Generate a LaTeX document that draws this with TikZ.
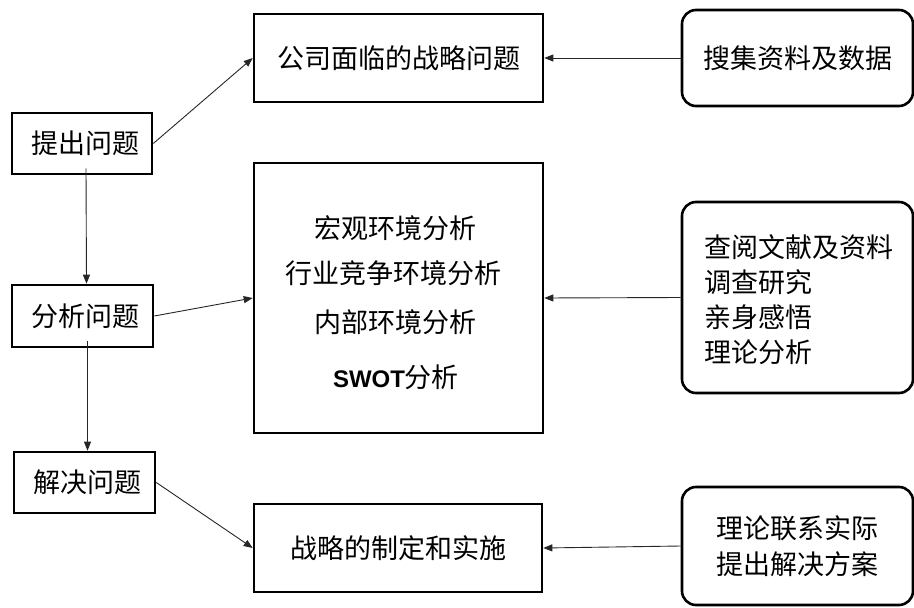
\documentclass[tikz,border=0pt]{standalone}
\usepackage{fontspec}
\setmainfont{Noto Sans CJK SC}
\newfontfamily\latinfont{Liberation Sans}
\usetikzlibrary{arrows.meta}
\tikzset{
  cjk/.style={font=\fontsize{27}{32}\selectfont},
  sqbox/.style={draw=black, line width=2.6pt, rectangle, inner sep=0pt, cjk},
  rbox/.style={draw=black, line width=2.6pt, rectangle, rounded corners=14pt, inner sep=0pt, cjk},
  conn/.style={draw=black!85, line width=0.9pt, -{Triangle[length=9pt,width=7pt]}}
}
\begin{document}
\begin{tikzpicture}[x=1pt,y=-1pt]
\useasboundingbox (0,0) rectangle (914,608);
% left column
\node[sqbox, minimum width=140pt, minimum height=61pt] (p1) at (82,143.5) {\hspace*{6pt}提出问题};
\node[sqbox, minimum width=141pt, minimum height=62pt] (p2) at (82.5,316) {\hspace*{6pt}分析问题};
\node[sqbox, minimum width=141pt, minimum height=61pt] (p3) at (84.5,482.5) {\hspace*{6pt}解决问题};
% middle column
\node[sqbox, minimum width=289pt, minimum height=88pt] (a) at (398.5,58) {公司面临的战略问题};
\node[sqbox, minimum width=289pt, minimum height=270pt] (b) at (398.5,298) {};
\node[cjk] (b1) at (395,228) {宏观环境分析};
\node[cjk] (b2) at (393,273) {行业竞争环境分析};
\node[cjk] (b3) at (395,322) {内部环境分析};
\node[cjk] (b4) at (396,377) {{\latinfont\bfseries\fontsize{24}{28}\selectfont SWOT}分析};
\node[sqbox, minimum width=288pt, minimum height=88pt] (c) at (398,548) {战略的制定和实施};
% right column
\node[rbox, minimum width=231pt, minimum height=96pt] (r1) at (797.5,58) {搜集资料及数据};
\node[rbox, minimum width=231pt, minimum height=191pt] (r3) at (797.5,297.5) {};
\node[anchor=west, align=left, font=\fontsize{27}{35}\selectfont, inner sep=0pt] (r3t) at (704,300) {查阅文献及资料\\调查研究\\亲身感悟\\理论分析};
\node[rbox, minimum width=231pt, minimum height=118pt, align=center, font=\fontsize{27}{36}\selectfont] (r4) at (797.5,546) {理论联系实际\\提出解决方案};
% connectors
\draw[conn] (p1.east) -- (a.west);
\draw[conn] (p2.east) -- (b.west);
\draw[conn] (p3.east) -- (c.west);
\draw[conn] ([xshift=4pt,yshift=7pt]p1.south) -- ([xshift=4pt]p2.north);
\draw[conn] ([xshift=5pt,yshift=7pt]p2.south) -- ([xshift=3pt]p3.north);
\draw[conn] (r1.west) -- (a.east);
\draw[conn] (r3.west) -- (b.east);
\draw[conn] (r4.west) -- (c.east);
\end{tikzpicture}
\end{document}
